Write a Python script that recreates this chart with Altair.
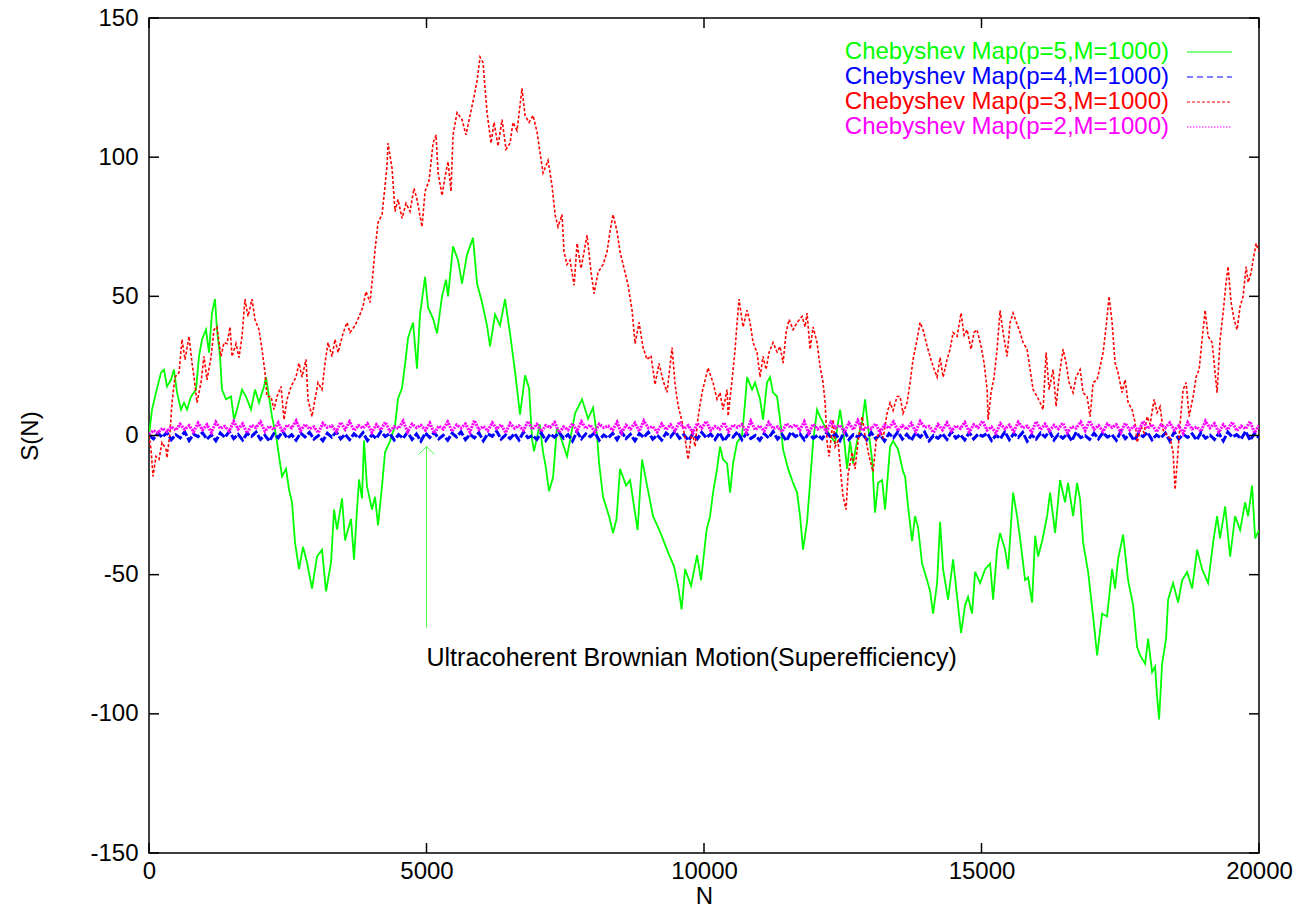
import altair as alt
import pandas as pd
import numpy as np

# ---------------- data ----------------
# p=5 (green) : (N, S(N))
P5 = [
(0,0),(54,9.3),(126,15.4),(216,22.6),(270,23.7),(324,17.6),(396,20),(450,23.7),(505,15.4),(577,9.3),
(631,11.8),(685,9.3),(757,14),(847,16.5),(901,28.4),(955,34.5),(1027,38),(1081,29.8),(1135,44),(1189,49),
(1225,38),(1279,28.4),(1315,16.5),(1388,13),(1478,14),(1532,5.7),(1586,9.3),(1676,16.5),(1748,14),(1838,9.3),
(1910,16.5),(1982,11.8),(2072,17.6),(2108,21),(2162,14),(2216,6.8),(2289,0),(2343,-7.5),(2397,-14.7),(2469,-12),
(2523,-19.4),(2577,-24),(2631,-38.5),(2703,-48),(2775,-40),(2847,-45.6),(2937,-55),(3027,-43.5),(3117,-41),(3190,-56),
(3280,-45.6),(3334,-26.6),(3388,-33.8),(3478,-22.6),(3532,-37.7),(3586,-33.8),(3640,-30),(3694,-44.6),(3748,-26.6),(3784,-15.8),
(3838,-22.6),(3874,-1.8),(3928,-18.3),(4018,-26.6),(4073,-22),(4127,-32.3),(4199,-18),(4253,-6),(4343,-2),(4433,3.6),
(4487,13.3),(4559,17),(4613,25.5),(4667,35),(4757,40.6),(4829,24),(4883,43.5),(4974,57),(5028,46),(5118,42),
(5190,36.7),(5280,50),(5352,56),(5388,50),(5478,68),(5568,63),(5640,54.6),(5730,65),(5838,71),(5911,54.6),
(6001,47.8),(6091,39.5),(6145,32),(6235,43.5),(6325,39.5),(6415,49),(6505,36.7),(6595,23),(6685,7.5),(6776,21.6),
(6848,17),(6902,-1.4),(6938,-5.7),(7040,4),(7100,-6),(7147,-11),(7208,-20),(7280,-15),(7352,3),(7440,-2),
(7532,-7.5),(7677,8),(7803,13),(7911,6),(8001,10),(8073,0),(8109,-9.8),(8181,-22),(8289,-29),(8361,-35),
(8424,-30),(8487,-12),(8596,-18),(8668,-16),(8803,-34),(8884,-8.6),(8974,-18),(9082,-29),(9217,-35),(9352,-42),
(9460,-47),(9533,-54),(9597,-62.5),(9659,-48),(9767,-54),(9875,-43),(9947,-52),(10046,-34),(10109,-29),(10163,-20.5),
(10235,-12),(10289,-4),(10343,-8.6),(10416,-10),(10470,-20.5),(10524,-10),(10596,-2.5),(10686,0),(10740,11.8),(10776,21),
(10866,16.5),(10920,19),(11010,13),(11064,5.7),(11136,19),(11190,21),(11244,15.4),(11317,14),(11371,5.7),(11425,-5),
(11515,-12),(11605,-17),(11677,-20.5),(11731,-29),(11785,-41),(11857,-31),(11911,-17),(11965,-2.5),(12037,9.3),(12091,6.8),
(12182,3),(12272,0),(12362,-2.5),(12452,9.3),(12506,2),(12578,-12),(12632,-2),(12686,-10),(12758,-2),(12848,4.5),
(12902,13),(12956,3),(13028,-8.6),(13082,-27.7),(13137,-17),(13209,-16),(13263,-26.6),(13353,-4),(13407,-2),(13497,-5),
(13587,-13),(13623,-14.7),(13677,-25.5),(13749,-38),(13803,-29),(13857,-33),(13929,-46),(14020,-52),(14074,-56),(14128,-64),
(14200,-53),(14254,-31),(14308,-48),(14398,-59),(14488,-44.5),(14560,-58),(14632,-71),(14704,-61),(14758,-58),(14830,-64),
(14885,-49),(14975,-53),(15065,-48),(15155,-46),(15209,-59),(15281,-41),(15335,-35),(15425,-41),(15479,-48),(15569,-20.5),
(15641,-29),(15695,-37),(15786,-52),(15840,-51),(15912,-60),(15966,-36),(16020,-43.5),(16092,-38),(16182,-29),(16236,-20.5),
(16326,-35),(16416,-16),(16506,-24),(16560,-17),(16650,-29),(16723,-17),(16777,-23),(16831,-38.5),(16921,-49),(17011,-65),
(17083,-79),(17173,-64),(17263,-65),(17353,-48),(17407,-55),(17461,-44.5),(17551,-35.6),(17642,-52),(17732,-61),(17804,-76),
(17858,-79),(17948,-82),(18002,-73),(18074,-85),(18128,-83),(18164,-94),(18200,-102),(18254,-82),(18326,-73),(18362,-59),
(18452,-53),(18543,-60),(18615,-52),(18705,-49),(18795,-55),(18885,-41),(18975,-48),(19083,-53),(19173,-38.5),(19245,-29),
(19299,-37),(19390,-25.5),(19480,-43.5),(19570,-29),(19660,-34),(19750,-24),(19804,-29),(19876,-18),(19930,-37),(20000,-34),
]

# p=3 (red) : (N, S(N))
P3 = [
(0,0),(36,-5),(72,-14.7),(126,-7.5),(180,-8.6),(234,-2.5),(306,-5),(324,-8),(378,1),(414,11.8),
(468,21),(541,22.6),(595,34.5),(649,27.3),(721,35.6),(775,26),(811,21),(865,11.8),(937,19),(991,28.4),
(1045,20),(1117,28),(1171,38),(1225,39),(1297,28.4),(1352,33.4),(1406,33),(1460,39),(1496,28.4),(1568,33),
(1622,28),(1676,35.6),(1730,49),(1784,42.8),(1856,49),(1910,41.7),(1982,38),(2036,31),(2090,22.6),(2126,14),
(2198,14),(2253,9.3),(2307,14),(2379,17.6),(2433,5.7),(2487,13),(2559,17.6),(2649,21),(2703,26),(2757,21),
(2829,27.3),(2865,13),(2937,6.8),(2991,13),(3045,19),(3117,16.5),(3172,26),(3226,33.4),(3298,28.4),(3352,34.5),
(3406,29.8),(3496,36.7),(3568,40.6),(3622,37),(3712,39.5),(3802,43.5),(3856,46.4),(3910,51.7),(3982,47.8),(4036,58.6),
(4073,66.8),(4127,76.5),(4199,79.4),(4235,86.2),(4289,97),(4307,105),(4379,96),(4433,80.5),(4487,84.8),(4559,78),
(4631,83.4),(4703,80.5),(4775,88.8),(4829,84.8),(4919,75),(4974,87.7),(5046,91.6),(5118,105),(5172,108),(5208,94.5),
(5280,86.2),(5334,93),(5388,98.4),(5442,87.7),(5478,108),(5550,116),(5640,113.5),(5712,108),(5784,115),(5857,121.8),
(5911,127.5),(5965,136),(6019,134),(6055,124.7),(6091,116),(6163,105),(6217,112.5),(6289,104),(6361,113.5),(6433,102.8),
(6505,105),(6559,112.5),(6631,109.6),(6721,124.7),(6776,115),(6848,112.5),(6920,115),(6992,109),(7046,101.6),(7100,94.3),
(7190,98.8),(7262,89.8),(7316,79.4),(7370,75),(7442,79.4),(7478,66),(7532,61.4),(7586,63),(7659,54),(7713,69),
(7785,60),(7839,66),(7893,72),(7965,58.6),(8019,51),(8091,58.6),(8181,61.4),(8253,66),(8307,73.3),(8361,79.4),
(8433,73.3),(8487,66),(8560,60),(8632,54),(8704,45),(8758,33),(8830,40.6),(8902,31.6),(8974,27.3),(9046,28.7),
(9118,18.3),(9190,25.9),(9262,19.8),(9334,15.5),(9425,31.6),(9479,18.3),(9533,10.8),(9605,4.9),(9659,-1),(9713,-8.6),
(9785,1.8),(9839,-4),(9893,6.5),(9965,15.5),(10019,19.8),(10073,24.3),(10163,19),(10235,13),(10289,15.4),(10343,9.3),
(10416,16.5),(10434,7),(10506,20),(10560,31),(10596,40.6),(10632,49),(10704,39),(10776,45),(10830,40.6),(10884,33.4),
(10956,29.8),(11010,21),(11064,28.4),(11118,23.7),(11172,29.8),(11244,33.4),(11317,30),(11371,32),(11425,26),(11479,37),
(11533,41.7),(11605,38),(11677,40.6),(11767,42.8),(11821,39),(11857,44),(11911,31),(11965,39),(12037,33.4),(12091,24.8),
(12145,19),(12182,11.8),(12218,-2.5),(12254,-7.5),(12326,5.7),(12362,-4),(12416,-2),(12470,-14.7),(12506,-22),(12560,-26.6),
(12596,-14),(12668,-6),(12722,-12),(12776,-2),(12848,6.8),(12902,0),(12974,-7.5),(13046,-13),(13101,-2),(13173,2),
(13227,-1),(13299,8),(13353,11.8),(13407,9),(13479,14),(13533,14),(13587,8),(13659,11.8),(13713,19),(13767,27.3),
(13839,34.5),(13893,40.6),(13947,38),(14020,32),(14074,28.4),(14128,24.8),(14200,21),(14254,28),(14308,21),(14380,27.3),
(14434,31),(14488,37),(14560,35.6),(14632,44),(14686,36),(14740,38),(14812,31),(14866,37),(14920,38),(14993,32),
(15047,26),(15101,16.5),(15119,5.7),(15173,15.4),(15227,21),(15281,31),(15335,45),(15389,37),(15461,28.4),(15515,40.6),
(15569,44),(15641,40),(15695,37),(15749,33.4),(15821,31),(15876,23.7),(15930,16.5),(16002,14),(16056,11.8),(16110,9.3),
(16164,29.8),(16218,16.5),(16290,23.7),(16344,10.5),(16398,21),(16470,31),(16524,26),(16578,19),(16650,15.4),(16704,21),
(16777,23.7),(16831,15.4),(16903,14),(16957,6.8),(17011,19),(17083,20),(17137,24.8),(17191,29.8),(17245,39),(17299,50),
(17353,40.6),(17407,26),(17461,22.6),(17533,15.4),(17587,20),(17642,11.8),(17714,9.3),(17768,4.6),(17804,-2.5),(17876,3.2),
(17930,1),(17984,6.8),(18038,4),(18110,13),(18164,8.2),(18218,10.4),(18272,2),(18344,0),(18398,-1),(18452,-6),
(18488,-19.4),(18525,-10),(18579,4.6),(18633,16.5),(18687,19),(18741,6.8),(18813,14),(18867,21),(18921,23.7),(18993,38),
(19029,45),(19083,35.6),(19155,33.4),(19209,22.6),(19245,15.4),(19299,34.5),(19353,44),(19407,55),(19443,60.7),(19497,47.8),
(19551,41.7),(19605,38),(19660,46.4),(19714,50),(19768,60.7),(19804,55),(19858,58.6),(19894,63),(19948,69),(20000,66),
]

# p=2 (magenta) : S(N) samples, evenly spaced over 0..20000
S2 = [
0.5,1.8,1.0,2.6,1.4,3.2,1.9,4.1,2.2,3.6,1.3,4.5,2.0,3.9,1.1,4.8,2.5,3.3,1.6,5.1,
2.3,4.2,0.9,3.7,2.8,4.9,1.5,3.4,2.1,4.6,1.2,3.8,2.7,5.3,1.7,4.0,2.4,3.1,1.0,4.4,
2.9,3.5,1.4,4.7,2.2,5.0,1.8,3.6,2.6,4.3,1.1,3.9,2.0,4.8,1.6,3.2,2.5,5.2,1.3,4.1,
2.8,3.7,1.9,4.5,0.8,3.4,2.3,4.9,1.5,3.8,2.7,4.2,1.2,5.4,2.1,3.3,1.7,4.6,2.4,3.9,
1.0,4.4,2.6,3.5,1.8,5.1,2.2,4.0,1.4,3.6,2.9,4.7,1.1,3.1,2.0,4.3,1.6,5.0,2.5,3.8,
1.3,4.1,2.8,3.4,1.9,4.8,0.9,3.7,2.3,4.5,1.5,5.3,2.7,3.2,1.2,4.2,2.1,3.9,1.7,4.9,
2.4,3.6,1.0,4.4,2.6,5.1,1.8,3.3,2.2,4.6,1.4,3.8,2.9,4.0,1.1,5.2,2.0,3.5,1.6,4.7,
2.5,3.1,1.3,4.3,2.8,3.9,1.9,5.0,0.8,4.1,2.3,3.4,1.5,4.8,2.7,3.7,1.2,4.5,2.1,5.4,
1.7,3.2,2.4,4.2,1.0,3.8,2.6,4.9,1.8,3.6,2.2,4.4,1.4,5.1,2.9,3.3,1.1,4.0,2.0,4.6,
1.6,3.5,2.5,4.7,1.3,3.9,2.8,5.2,1.9,3.1,0.9,4.3,2.3,3.8,1.5,4.8,2.7,3.4,1.2,5.0,
2.1,4.1,1.7,3.7,2.4,4.5,1.0,3.2,2.6,4.9,1.8,5.3,2.2,3.6,1.4,4.2,2.9,3.9,1.1,4.4,
2.0,3.3,1.6,5.1,2.5,4.0,1.3,3.8,2.8,4.6,1.9,3.5,0.8,4.7,2.3,3.1,1.5,5.2,2.7,4.3,
1.2,3.9,2.1,4.8,1.7,3.4,2.4,5.0,1.0,3.7,
]

# p=4 (blue) : S(N) samples, evenly spaced over 0..20000
S4 = [
0.0,-1.2,0.8,-0.6,1.1,-1.5,0.3,-0.9,1.3,-1.8,0.5,-0.4,1.0,-1.3,0.2,-1.9,0.9,-0.7,1.4,-1.1,
0.4,-1.6,0.7,-0.3,1.2,-1.4,0.1,-2.0,0.6,-0.8,1.5,-1.0,0.3,-1.7,0.9,-0.5,1.1,-1.3,0.0,-1.9,
0.8,-0.6,1.3,-1.2,0.4,-1.5,0.6,-0.9,1.0,-1.8,0.2,-1.1,1.4,-0.4,0.7,-1.6,0.3,-1.0,1.2,-1.4,
0.5,-2.0,0.9,-0.7,1.1,-1.2,0.1,-1.7,0.8,-0.5,1.3,-1.5,0.4,-0.9,1.0,-1.9,0.6,-0.3,1.5,-1.3,
0.2,-1.1,0.7,-1.6,1.2,-0.8,0.0,-1.4,0.9,-1.8,0.5,-0.6,1.1,-1.0,0.3,-2.0,1.4,-1.2,0.6,-0.4,
1.0,-1.7,0.2,-0.9,0.8,-1.5,1.3,-1.1,0.4,-1.9,0.7,-0.7,1.2,-1.3,0.1,-1.6,0.9,-0.5,1.5,-1.0,
0.3,-1.8,0.6,-1.2,1.1,-0.8,0.5,-1.4,1.0,-2.0,0.2,-0.6,1.3,-1.5,0.8,-1.1,0.0,-1.7,0.7,-0.9,
1.4,-1.3,0.4,-1.9,1.2,-0.4,0.6,-1.6,0.9,-1.0,0.1,-1.2,1.0,-0.7,0.5,-1.8,1.5,-1.4,0.3,-0.5,
0.8,-1.5,1.1,-1.1,0.2,-2.0,0.7,-0.8,1.3,-1.3,0.4,-1.7,0.9,-0.6,1.2,-1.9,0.0,-1.0,0.6,-1.4,
1.4,-0.9,0.3,-1.6,1.0,-1.2,0.5,-0.3,0.8,-1.8,0.1,-1.1,1.3,-1.5,0.7,-0.7,1.1,-2.0,0.2,-1.3,
0.9,-0.5,1.5,-1.6,0.4,-1.0,0.6,-1.9,1.2,-0.8,0.0,-1.4,0.8,-1.2,1.0,-0.6,0.3,-1.7,1.4,-1.1,
0.5,-1.8,0.7,-0.4,1.1,-1.5,0.2,-0.9,0.9,-2.0,1.3,-1.3,0.4,-0.7,0.6,-1.6,1.0,-1.0,0.1,-1.4,
0.8,-1.9,1.2,-0.5,0.3,-1.2,1.5,-1.7,0.7,-0.8,
]

LABELS = [
    "Chebyshev Map(p=5,M=1000)",
    "Chebyshev Map(p=4,M=1000)",
    "Chebyshev Map(p=3,M=1000)",
    "Chebyshev Map(p=2,M=1000)",
]
COLORS = ["#00ff00", "#0000ff", "#ff0000", "#ff00ff"]
X_TICKS = [0, 5000, 10000, 15000, 20000]
Y_TICKS = [-150, -100, -50, 0, 50, 100, 150]
N_MAX = 20000
ANNOT_TEXT = "Ultracoherent Brownian Motion(Superefficiency)"
ARROW = {"N": [5000], "y0": [-69], "y1": [-4], "ty": [-80]}

# ---------------- chart ----------------
FONT = "Liberation Sans"
W, H = 1110, 835
xs = alt.Scale(domain=[0, N_MAX], nice=False, zero=False)
ys = alt.Scale(domain=[-150, 150], nice=False, zero=False)

XAX = alt.Axis(values=X_TICKS, ticks=False, domain=False, grid=False, labelPadding=6,
               labelFlush=False, labelExpr="'' + datum.value",
               title="N", titleY=50, titleBaseline="alphabetic")
YAX = alt.Axis(values=Y_TICKS, ticks=False, domain=False, grid=False, labelPadding=11,
               labelFlush=False, labelExpr="'' + datum.value",
               title="S(N)", titleX=-119, titleY=H / 2, titleBaseline="middle",
               titleAlign="center")


def X(field):
    return alt.X(field, type="quantitative", scale=xs, axis=XAX)


def Y(field):
    return alt.Y(field, type="quantitative", scale=ys, axis=YAX)


df5 = pd.DataFrame(P5, columns=["N", "S"])
df3 = pd.DataFrame(P3, columns=["N", "S"])
df2 = pd.DataFrame({"N": np.linspace(0, N_MAX, len(S2)), "S": S2})
df4 = pd.DataFrame({"N": np.linspace(0, N_MAX, len(S4)), "S": S4})

DASHES = [None, [6, 4], [3, 2], [1.5, 1.5]]
PLOT_DASHES = [None, [8, 2], [3, 2], [2, 1]]
WIDTHS = [1.8, 3.0, 1.6, 3.0]


def line(df, i):
    kw = dict(color=COLORS[i], strokeWidth=WIDTHS[i], clip=True)
    if PLOT_DASHES[i] is not None:
        kw["strokeDash"] = PLOT_DASHES[i]
    return alt.Chart(df).mark_line(**kw).encode(x=X("N"), y=Y("S"))


ydf = pd.DataFrame({"y": Y_TICKS})
xdf = pd.DataFrame({"x": X_TICKS})
tick_style = dict(color="black", strokeWidth=1.5)
ticks = [
    alt.Chart(ydf).mark_rule(**tick_style).encode(y=Y("y"), x=alt.value(0), x2=alt.value(10)),
    alt.Chart(ydf).mark_rule(**tick_style).encode(y=Y("y"), x=alt.value(W - 10), x2=alt.value(W)),
    alt.Chart(xdf).mark_rule(**tick_style).encode(x=X("x"), y=alt.value(H - 10), y2=alt.value(H)),
    alt.Chart(xdf).mark_rule(**tick_style).encode(x=X("x"), y=alt.value(0), y2=alt.value(10)),
]

adf = pd.DataFrame(ARROW)
adf["t"] = [ANNOT_TEXT]
arrow_shaft = alt.Chart(adf).mark_rule(color="#00ff00", strokeWidth=1, opacity=0.7).encode(
    x=X("N"), y=Y("y0"), y2="y1:Q")
arrow_head = alt.Chart(adf).mark_point(shape="M-1,1L0,0L1,1", filled=False, size=256,
                                       color="#00ff00", strokeWidth=1, opacity=0.7).encode(
    x=X("N"), y=Y("y1"))
annot = alt.Chart(adf).mark_text(align="left", baseline="middle", font=FONT, fontSize=25,
                                 color="black").encode(x=X("N"), y=Y("ty"), text="t:N")

legend = []
ROW0, ROWSTEP = 34, 25
for i, lab in enumerate(LABELS):
    ldf = pd.DataFrame({"label": [lab]})
    legend.append(alt.Chart(ldf).mark_text(align="right", baseline="middle", font=FONT,
                                           fontSize=24, color=COLORS[i]).encode(
        text="label:N", x=alt.value(1020), y=alt.value(ROW0 + ROWSTEP * i)))
    kw = dict(color=COLORS[i], strokeWidth=1.2)
    if DASHES[i] is not None:
        kw["strokeDash"] = DASHES[i]
    legend.append(alt.Chart(ldf).mark_rule(**kw).encode(
        x=alt.value(1038), x2=alt.value(1083), y=alt.value(ROW0 + ROWSTEP * i)))

chart = alt.layer(
    line(df5, 0), line(df4, 1), line(df3, 2), line(df2, 3),
    arrow_shaft, arrow_head, annot,
    *ticks, *legend,
).properties(
    width=W, height=H,
    padding={"left": 141, "top": 10, "right": 49, "bottom": 55},
    autosize=alt.AutoSizeParams(type="none"),
    background="white",
).configure_view(
    stroke="black", strokeWidth=1.5
).configure_axis(
    labelFont=FONT, labelFontSize=24, labelColor="black",
    titleFont=FONT, titleFontSize=24, titleFontWeight="normal", titleColor="black",
)

chart.save("out.html", embed_options={"renderer": "svg", "actions": False})
